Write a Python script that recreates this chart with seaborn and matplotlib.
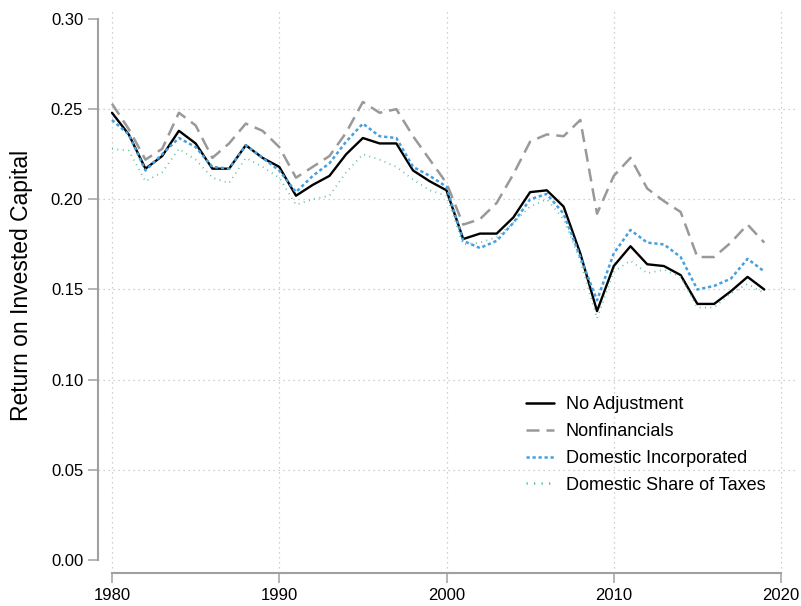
import numpy as np
import pandas as pd
import matplotlib
matplotlib.use('Agg')
import matplotlib.pyplot as plt
import seaborn as sns

# data
years = list(range(1980, 2020))

no_adjustment = [0.248, 0.236, 0.217, 0.224, 0.238, 0.231, 0.217, 0.217, 0.230, 0.223,
                 0.218, 0.202, 0.208, 0.213, 0.225, 0.234, 0.231, 0.231, 0.216, 0.210,
                 0.205, 0.178, 0.181, 0.181, 0.190, 0.204, 0.205, 0.196, 0.170, 0.138,
                 0.163, 0.174, 0.164, 0.163, 0.158, 0.142, 0.142, 0.149, 0.157, 0.150]

nonfinancials = [0.253, 0.239, 0.222, 0.228, 0.248, 0.241, 0.223, 0.231, 0.242, 0.238,
                 0.229, 0.212, 0.218, 0.224, 0.237, 0.254, 0.248, 0.250, 0.235, 0.222,
                 0.209, 0.186, 0.189, 0.198, 0.214, 0.232, 0.236, 0.235, 0.244, 0.192,
                 0.213, 0.223, 0.206, 0.199, 0.193, 0.168, 0.168, 0.176, 0.186, 0.176]

domestic_incorporated = [0.244, 0.236, 0.216, 0.225, 0.234, 0.229, 0.218, 0.217, 0.230, 0.223,
                         0.216, 0.204, 0.213, 0.220, 0.232, 0.242, 0.235, 0.234, 0.218, 0.213,
                         0.207, 0.177, 0.173, 0.177, 0.187, 0.200, 0.203, 0.192, 0.168, 0.144,
                         0.170, 0.183, 0.176, 0.175, 0.168, 0.150, 0.152, 0.156, 0.167, 0.160]

domestic_share_taxes = [0.228, 0.227, 0.210, 0.215, 0.228, 0.222, 0.212, 0.209, 0.223, 0.218,
                        0.212, 0.197, 0.200, 0.202, 0.215, 0.225, 0.222, 0.218, 0.211, 0.205,
                        0.202, 0.175, 0.176, 0.179, 0.187, 0.196, 0.200, 0.189, 0.166, 0.134,
                        0.160, 0.166, 0.159, 0.161, 0.157, 0.140, 0.140, 0.148, 0.153, 0.148]

series_names = ['No Adjustment', 'Nonfinancials', 'Domestic Incorporated', 'Domestic Share of Taxes']
series_values = [no_adjustment, nonfinancials, domestic_incorporated, domestic_share_taxes]

y_ticks = [0.00, 0.05, 0.10, 0.15, 0.20, 0.25, 0.30]
x_ticks = [1980, 1990, 2000, 2010, 2020]

# long table for seaborn
frames = []
for name, vals in zip(series_names, series_values):
    frames.append(pd.DataFrame({'year': years, 'roic': vals, 'series': name}))
df = pd.concat(frames, ignore_index=True)

sns.set_style('white')
plt.rcParams['font.family'] = ['Liberation Sans', 'DejaVu Sans']
plt.rcParams['text.color'] = 'black'
plt.rcParams['axes.labelcolor'] = 'black'

palette = {'No Adjustment': '#000000',
           'Nonfinancials': '#999999',
           'Domestic Incorporated': '#45a0e0',
           'Domestic Share of Taxes': '#5cb89c'}
dashes = {'No Adjustment': '',
          'Nonfinancials': (5.2, 2.8),
          'Domestic Incorporated': (1.3, 1.1),
          'Domestic Share of Taxes': (0.5, 2.5)}

fig = plt.figure(figsize=(8.01, 6.06), dpi=100)
ax = fig.add_axes([98 / 801, 1 - 573 / 606, 697 / 801, 563 / 606])

sns.lineplot(data=df, x='year', y='roic', hue='series', style='series',
             palette=palette, dashes=dashes, hue_order=series_names,
             style_order=series_names, linewidth=1.8, ax=ax)
lines = ax.get_lines()
for line in lines:
    line.set_clip_on(False)
lines[0].set_linewidth(1.7)
lines[3].set_linewidth(1.3)

yr_px = 16.725
ax.set_xlim(1980 - 14 / yr_px, 2020 + 14 / yr_px)
ax.set_ylim(-13 / 1803.3, 0.30 + 9 / 1803.3)
ax.set_xticks(x_ticks)
ax.set_yticks(y_ticks)
ax.set_yticklabels(['%.2f' % v for v in y_ticks])

for s in ['top', 'right']:
    ax.spines[s].set_visible(False)
for s in ['left', 'bottom']:
    ax.spines[s].set_color('#a0a0a0')
    ax.spines[s].set_linewidth(1.5)
ax.spines['left'].set_bounds(0, 0.30)
ax.spines['bottom'].set_bounds(1980, 2020)

ax.tick_params(axis='both', direction='out', length=7.2, width=1.1, color='#a0a0a0',
               labelsize=12, labelcolor='black', pad=3.5, left=True, bottom=True)

# dotted grid, skip the outer horizontal lines
for y in y_ticks[1:-1]:
    ax.axhline(y, color='#c0c0c0', linestyle=(0, (1, 3)), linewidth=0.9, zorder=0)
for x in x_ticks:
    ax.axvline(x, color='#c0c0c0', linestyle=(0, (1, 3)), linewidth=0.9, zorder=0)

ax.set_xlabel('')
ax.set_ylabel('Return on Invested Capital', fontsize=16.5, color='black')
ax.yaxis.set_label_coords(-0.093, 0.51)

leg = ax.legend(frameon=False, loc='upper left', bbox_to_anchor=(526 / 801, 1 - 396 / 606),
                bbox_transform=fig.transFigure, fontsize=13, handlelength=1.55,
                handletextpad=0.65, labelspacing=0.55, borderpad=0, borderaxespad=0,
                labelcolor='black')

plt.savefig('out.png', dpi=100)
